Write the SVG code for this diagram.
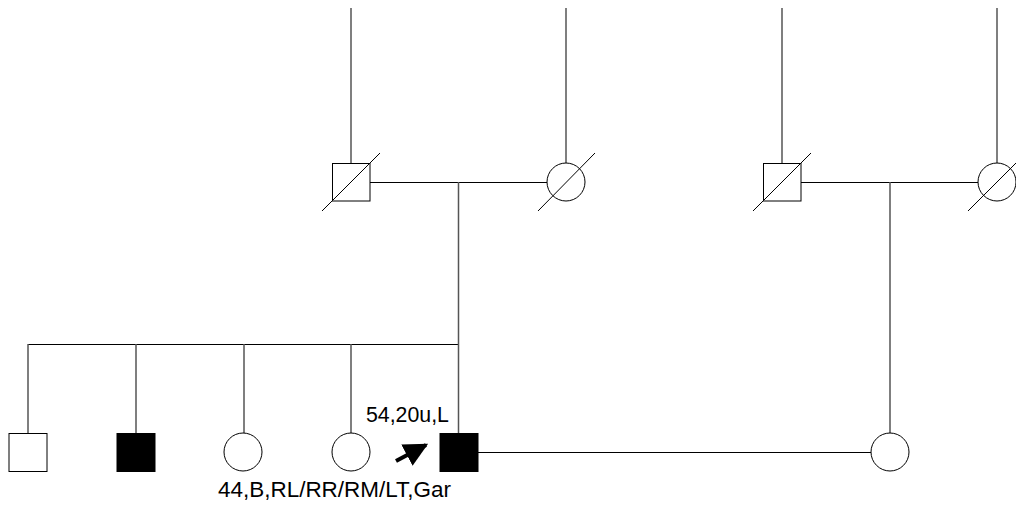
<svg xmlns="http://www.w3.org/2000/svg" width="1016" height="511" viewBox="0 0 1016 511">
<style>
.ln{stroke:#000;stroke-width:1;fill:none}
.vl{stroke:#555;stroke-width:1.5;fill:none}
.sym{stroke:#000;stroke-width:1;fill:#fff}
.aff{stroke:#000;stroke-width:1;fill:#000}
.dec{stroke:#000;stroke-width:1}
.lbl{font-family:"Liberation Sans",Arial,sans-serif;fill:#000}
</style>
<defs>
<marker id="ah" viewBox="0 0 10 10" refX="9" refY="5" markerWidth="6" markerHeight="6" markerUnits="strokeWidth" orient="auto">
<path d="M0,0 L10,5 L0,10 z" fill="#000"/>
</marker>
</defs>
<rect width="1016" height="511" fill="#fff"/>
<g id="connectors">
<path class="vl" d="M351,8V163M566,8V163M782,8V163M997,8V163"/>
<path class="ln" d="M370,182.5H547M801,182.5H978M478,452.5H871M28,344.5H458"/>
<path class="vl" d="M458.5,182V433M890,182V433M28,344V433M136,344V433M244,344V433M351,344V433"/>
</g>
<g id="gf1"><rect class="sym" x="332.5" y="163.5" width="37.5" height="37.5"/><line class="dec" x1="322" y1="211" x2="380" y2="153"/></g>
<g id="gm1"><circle class="sym" cx="566" cy="182" r="19"/><line class="dec" x1="538" y1="211" x2="595" y2="153"/></g>
<g id="gf2"><rect class="sym" x="763.5" y="163.5" width="37.5" height="37.5"/><line class="dec" x1="753" y1="211" x2="811" y2="153"/></g>
<g id="gm2"><circle class="sym" cx="997" cy="182" r="19"/><line class="dec" x1="968" y1="211" x2="1026" y2="153"/></g>
<g id="sib1"><rect class="sym" x="9" y="433.5" width="38" height="38"/></g>
<g id="sib2"><rect class="aff" x="117" y="433.5" width="38" height="38"/></g>
<g id="sib3"><circle class="sym" cx="243" cy="452" r="19"/></g>
<g id="sib4"><circle class="sym" cx="351" cy="452" r="19"/></g>
<g id="proband"><rect class="aff" x="440" y="433.5" width="38" height="38"/>
<line x1="396" y1="461" x2="426" y2="445" stroke="#000" stroke-width="4" marker-end="url(#ah)"/>
<text class="lbl" x="366" y="422" font-size="21.3">54,20u,L</text>
<text class="lbl" x="218" y="497" font-size="22.3" textLength="233" lengthAdjust="spacingAndGlyphs">44,B,RL/RR/RM/LT,Gar</text></g>
<g id="spouse"><circle class="sym" cx="890" cy="452" r="19"/></g>
</svg>
